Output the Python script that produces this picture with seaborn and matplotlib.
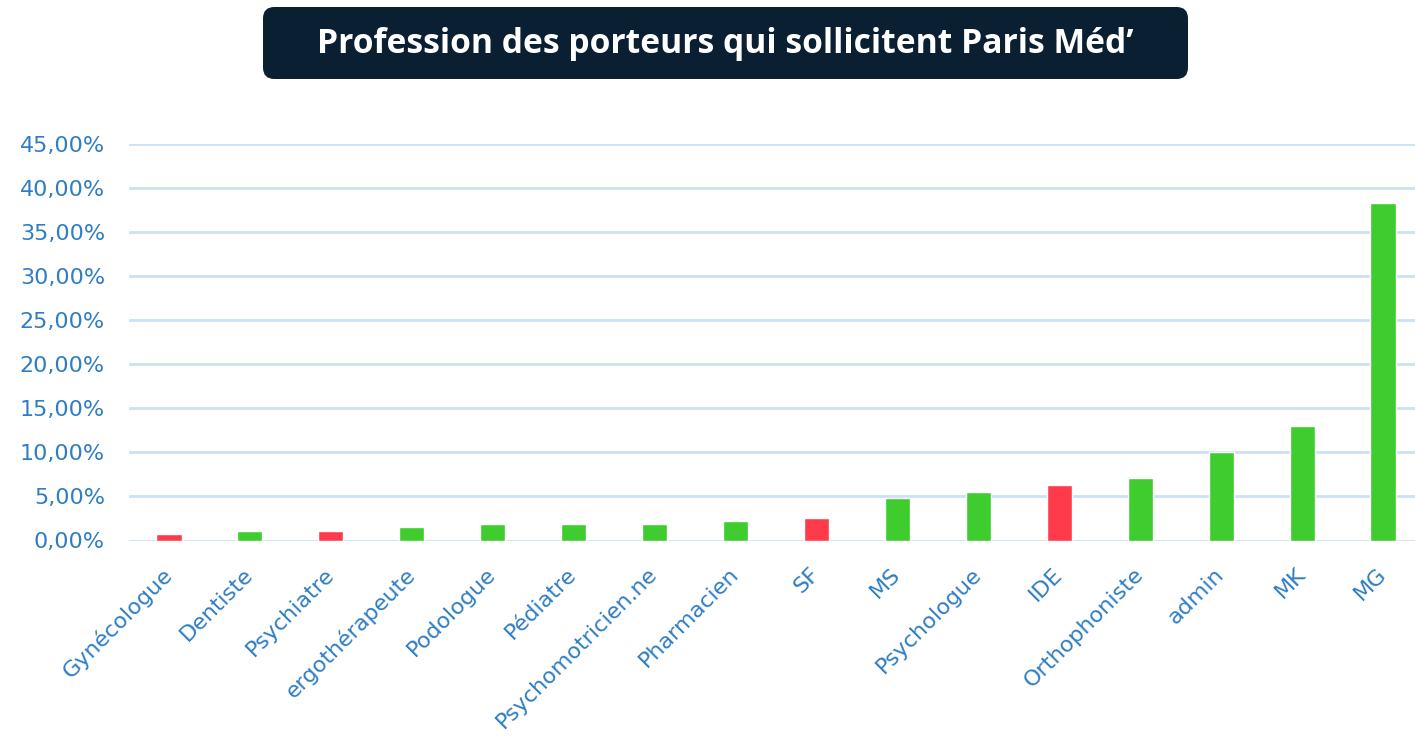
import matplotlib
matplotlib.use("Agg")
import matplotlib.pyplot as plt
import seaborn as sns
import pandas as pd
from matplotlib.patches import FancyBboxPatch
from matplotlib.ticker import FuncFormatter, MultipleLocator

categories = ["Gynécologue", "Dentiste", "Psychiatre", "ergothérapeute", "Podologue",
              "Pédiatre", "Psychomotricien.ne", "Pharmacien", "SF", "MS", "Psychologue",
              "IDE", "Orthophoniste", "admin", "MK", "MG"]
values = [0.74, 1.11, 1.11, 1.48, 1.85, 1.85, 1.85, 2.22, 2.59, 4.81, 5.56,
          6.30, 7.04, 10.00, 12.96, 38.30]
groups = ["r", "g", "r", "g", "g", "g", "g", "g", "r", "g", "g", "r", "g", "g", "g", "g"]
title = "Profession des porteurs qui sollicitent Paris Méd’"

GREEN = "#3FCC2F"
RED = "#FF3B4B"
GRID = "#CCE1F4"
TXT = "#2F7DC4"
NAVY = "#0B1F33"

sns.set_theme(style="white")
plt.rcParams['font.family'] = ['DejaVu Sans']

W, H = 1415, 744
fig = plt.figure(figsize=(W / 100, H / 100), dpi=100)
left, right = 128.5, 1423.5
top, bottom = 144, 540.5
ax = fig.add_axes([left / W, 1 - bottom / H, (right - left) / W, (bottom - top) / H])

df = pd.DataFrame({"cat": categories, "val": values, "grp": groups})
sns.barplot(data=df, x="cat", y="val", hue="grp", palette={"g": GREEN, "r": RED},
            dodge=False, width=0.31, legend=False, ax=ax, saturation=1, zorder=3)

ax.set_ylim(0, 45)
ax.set_xlim(-0.5, len(categories) - 0.5)
ax.yaxis.set_major_locator(MultipleLocator(5))
ax.yaxis.set_major_formatter(FuncFormatter(lambda v, p: f"{v:.2f}".replace(".", ",") + "%"))
ax.grid(axis="y", color=GRID, linewidth=2, zorder=0)
ax.set_axisbelow(True)
for s in ax.spines.values():
    s.set_visible(False)
ax.set_xlabel("")
ax.set_ylabel("")
ax.tick_params(axis="y", length=0, pad=17, labelsize=16, labelcolor=TXT)
ax.tick_params(axis="x", length=0, pad=22, labelsize=16, labelcolor=TXT)
for lab in ax.get_xticklabels():
    lab.set_rotation(45)
    lab.set_ha("right")
    lab.set_va("center")
    lab.set_rotation_mode("anchor")

# title box
box = FancyBboxPatch((263 / W, 1 - 79 / H), (1188 - 263) / W, (79 - 7) / H,
                     boxstyle="round,pad=0,rounding_size=0.008", transform=fig.transFigure,
                     facecolor=NAVY, edgecolor="none", mutation_aspect=W / H)
fig.patches.append(box)
t = fig.text(725.5 / W, 1 - 44 / H, title, ha="center", va="center", color="white",
             fontsize=22, fontweight="bold", family=["Open Sans", "DejaVu Sans"])
fig.canvas.draw()
bb = t.get_window_extent()
t.set_fontsize(22 * 815 / bb.width)

fig.savefig("out.png", dpi=100, facecolor="white")
